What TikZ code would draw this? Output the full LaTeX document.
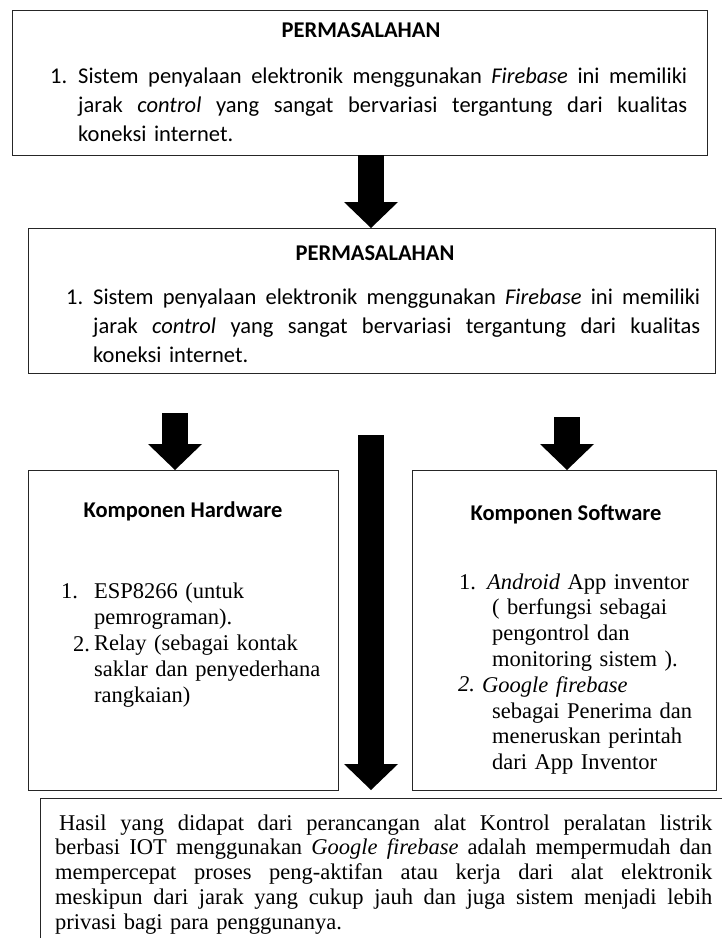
\documentclass[tikz,border=0pt]{standalone}
\usepackage{fontspec}
\setmainfont{Liberation Serif}
\newfontfamily\calibri{Carlito}
\usetikzlibrary{arrows.meta}
\setlength{\parindent}{0pt}

\newcommand{\jline}[1]{\makebox[\hsize][s]{\spaceskip=0pt\relax #1}}

\begin{document}
\begin{tikzpicture}[x=1pt,y=-1pt,
		box/.style={draw=black!85, line width=1.3pt, anchor=north west, inner sep=0pt},
		title/.style={font=\calibri\bfseries\fontsize{22.5}{27}\selectfont, anchor=base, inner sep=0pt},
		calitext/.style={font=\calibri\fontsize{22.5}{29}\selectfont, anchor=base west, inner sep=0pt, align=left},
		timestext/.style={font=\fontsize{22.5}{26.2}\selectfont, anchor=base west, inner sep=0pt, align=left},
		fatarrow/.style={line width=26pt, -{Triangle[length=26pt,width=54pt,line width=0pt]}}]
			
			\useasboundingbox (0,0) rectangle (722,938);
			
			% Boxes
			\node[box, minimum width=695pt, minimum height=145pt] (masalah1) at (12,10) {};
			\node[box, minimum width=687pt, minimum height=145pt] (masalah2) at (28,228) {};
			\node[box, minimum width=310pt, minimum height=320pt] (hardware) at (28,470) {};
			\node[box, minimum width=304pt, minimum height=320pt] (software) at (412,470) {};
			\node[box, minimum width=700pt, minimum height=160pt] (hasil) at (40,798) {};
			
			% Problem (top)
			\node[title] (judul1) at (361,37) {PERMASALAHAN};
			\node[calitext] (no1a) at (50,83) {1.};
			\node[calitext, text width=609pt] (isi1) at (78,83) {%
				\jline{Sistem penyalaan elektronik menggunakan \textit{Firebase} ini memiliki}\\
				\jline{jarak \textit{control} yang sangat bervariasi tergantung dari kualitas}\\
				koneksi internet.};
			
			% Problem (second)
			\node[title] (judul2) at (375,260) {PERMASALAHAN};
			\node[calitext] (no1b) at (66,304) {1.};
			\node[calitext, text width=607pt] (isi2) at (93,304) {%
				\jline{Sistem penyalaan elektronik menggunakan \textit{Firebase} ini memiliki}\\
				\jline{jarak \textit{control} yang sangat bervariasi tergantung dari kualitas}\\
				koneksi internet.};
			
			% Hardware
			\node[title] (judulhw) at (183,517) {Komponen Hardware};
			\node[timestext] (nohw1) at (61,598) {1.};
			\node[timestext] (nohw2) at (73,651) {2.};
			\node[timestext, text width=230pt] (isihw) at (94,598) {%
				ESP8266 (untuk\\
				pemrograman).\\
				Relay (sebagai kontak\\
				saklar dan penyederhana\\
				rangkaian)};
			
			% Software
			\node[title] (judulsw) at (566,520) {Komponen Software};
			\node[timestext] (nosw1) at (459,589) {1.};
			\node[timestext] (nosw2) at (458,691) {\textit{2.}};
			\node[timestext, font=\fontsize{22.5}{25.8}\selectfont, text width=220pt] (isisw) at (492,589) {%
				\hspace*{-5pt}\textit{Android} App inventor\\
				( berfungsi sebagai\\
				pengontrol dan\\
				monitoring sistem ).\\
				\hspace*{-10pt}\textit{Google firebase}\\
				sebagai Penerima dan\\
				meneruskan perintah\\
				dari App Inventor};
			
			% Result
			\node[timestext, font=\fontsize{22.5}{24.8}\selectfont, text width=657pt] (isihasil) at (55,830) {%
				\jline{\hspace*{4pt}Hasil yang didapat dari perancangan alat Kontrol peralatan listrik}\\
				\jline{berbasi IOT menggunakan \textit{Google firebase} adalah mempermudah dan}\\
				\jline{mempercepat proses peng-aktifan atau kerja dari alat elektronik}\\
				\jline{meskipun dari jarak yang cukup jauh dan juga sistem menjadi lebih}\\
				privasi bagi para penggunanya.};
			
			% Arrows
			\coordinate (a1) at (371,155);
			\coordinate (a2) at (175,413);
			\coordinate (a3) at (371,435);
			\coordinate (a4) at (567,417);
			\draw[fatarrow] (a1) -- (a1 |- masalah2.north);
			\draw[fatarrow] (a2) -- (a2 |- hardware.north);
			\draw[fatarrow, shorten >=8pt] (a3) -- (a3 |- hasil.north);
			\draw[fatarrow] (a4) -- (a4 |- software.north);
		\end{tikzpicture}
\end{document}
